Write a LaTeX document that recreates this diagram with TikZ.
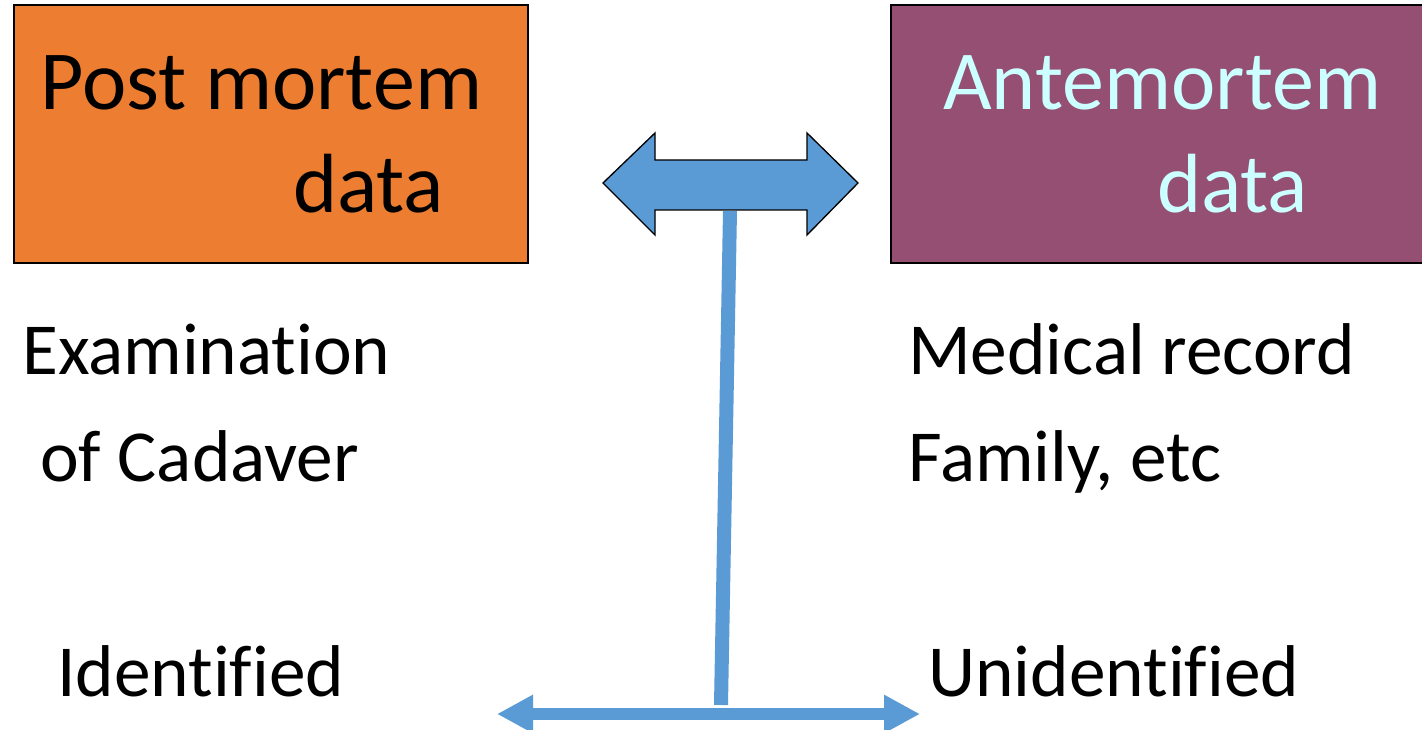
\documentclass[tikz,border=0pt]{standalone}
\usepackage{fontspec}
\setmainfont{Carlito}[RawFeature={-liga;-clig;-dlig;-calt}]
\usetikzlibrary{arrows.meta}
\definecolor{boxorange}{HTML}{ED7D31}
\definecolor{boxpurple}{HTML}{954F72}
\definecolor{lightcyan}{HTML}{CCFFFF}
\definecolor{arrowblue}{HTML}{5B9BD5}
\tikzset{
  databox/.style={draw=black, line width=1.2pt},
  titletext/.style={anchor=base west, inner sep=0pt, font=\fontsize{63}{70}\selectfont},
  bodytext/.style={anchor=base west, inner sep=0pt, font=\fontsize{55}{62}\selectfont},
  bluelink/.style={draw=arrowblue, line width=10.5pt},
  bottomarrow/.style={draw=arrowblue, line width=9pt, {Triangle[length=27pt,width=27pt]}-{Triangle[length=27pt,width=27pt]}}
}
\begin{document}
\begin{tikzpicture}[x=0.75pt,y=-0.75pt]
\useasboundingbox (0,0) rectangle (1422,730);
\fill[white] (0,0) rectangle (1422,730);
% boxes
\node[databox, fill=boxorange, anchor=north west, minimum width=514*0.75pt, minimum height=258*0.75pt, inner sep=0pt] (pm) at (13,4) {};
\node[databox, fill=boxpurple, anchor=north west, minimum width=540*0.75pt, minimum height=258*0.75pt, inner sep=0pt] (am) at (890,4) {};
\node[titletext] (pm1) at (40,110) {Post mortem};
\node[titletext] (pm2) at (293,213) {data};
\node[titletext, text=lightcyan] (am1) at (943,110) {Antemortem};
\node[titletext, text=lightcyan] (am2) at (1157,213) {data};
% double arrow
\coordinate (dl) at (603,183);
\coordinate (dr) at (858,183);
\filldraw[fill=arrowblue, draw=black, line width=1pt, line join=miter]
  (dl) -- (655,133) -- (655,160) -- (807,160) -- (807,133) -- (dr)
  -- (807,235) -- (807,210) -- (655,210) -- (655,235) -- cycle;
\coordinate (dtop) at (730,211);
\coordinate (bmid) at (721,705);
\draw[bluelink] (dtop) -- (bmid);
% bottom arrow
\coordinate (bl) at (497,714);
\coordinate (br) at (920,714);
\draw[bottomarrow] (bl) -- (br);
% texts
\node[bodytext] (ex1) at (22,375) {Examinat\kern0pt ion};
\node[bodytext] (ex2) at (40,482) {of Cadaver};
\node[bodytext] (mr1) at (908,375) {Medical record};
\node[bodytext] (mr2) at (908,482) {Family, etc};
\node[bodytext] (id) at (57,697) {Identif\kern0pt ied};
\node[bodytext] (uid) at (928,697) {Unidentif\kern0pt ied};
\end{tikzpicture}
\end{document}
